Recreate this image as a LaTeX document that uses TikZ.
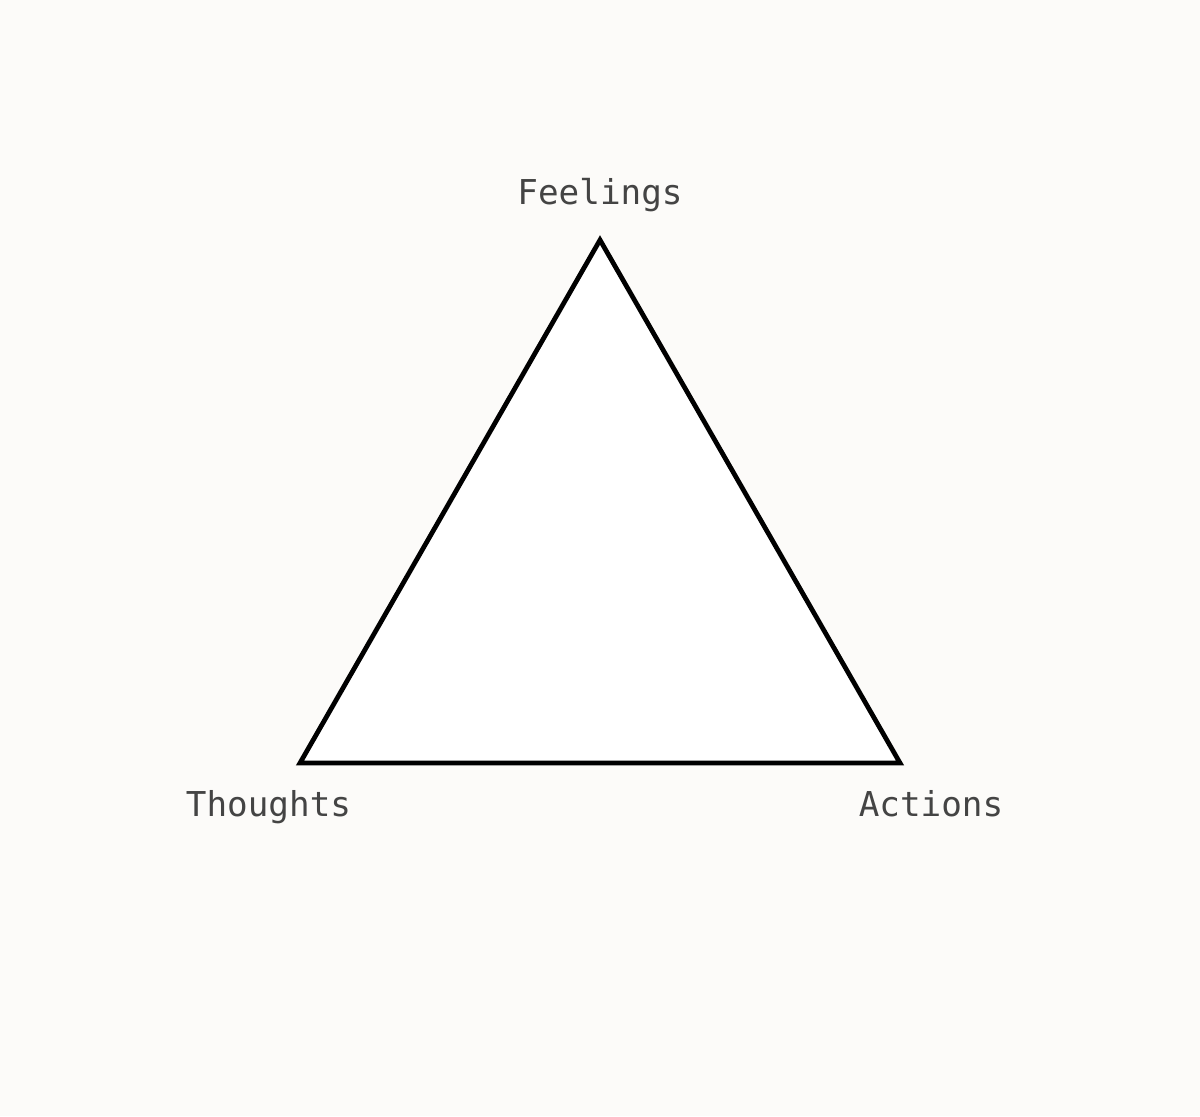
\documentclass[tikz,border=0pt]{standalone}
\usepackage{fontspec}
\setmonofont{DejaVu Sans Mono}
\definecolor{paper}{HTML}{FCFBF9}
\definecolor{ink}{HTML}{444444}
\tikzset{
  corner/.style={font=\ttfamily\fontsize{19.5}{23}\selectfont, text=ink, anchor=base, inner sep=0pt}
}

\begin{document}
\begin{tikzpicture}
  \fill [paper] (0, 0) rectangle (24, 22.32);
  \useasboundingbox (0, 0) rectangle (24, 22.32);
  \coordinate (top) at (12, 17.52);
  \coordinate (left) at (6, 7.06);
  \coordinate (right) at (18, 7.06);
  \draw [fill=white, line width=2.7pt, line join=miter] (left) -- (top) -- (right) -- cycle;
  \foreach \name/\x/\y/\text in {feel/12/18.22/Feelings, thought/5.37/5.98/Thoughts, act/18.62/5.98/Actions} {
    \node [corner] (\name) at (\x, \y) {\text};
  }
\end{tikzpicture}
\end{document}
